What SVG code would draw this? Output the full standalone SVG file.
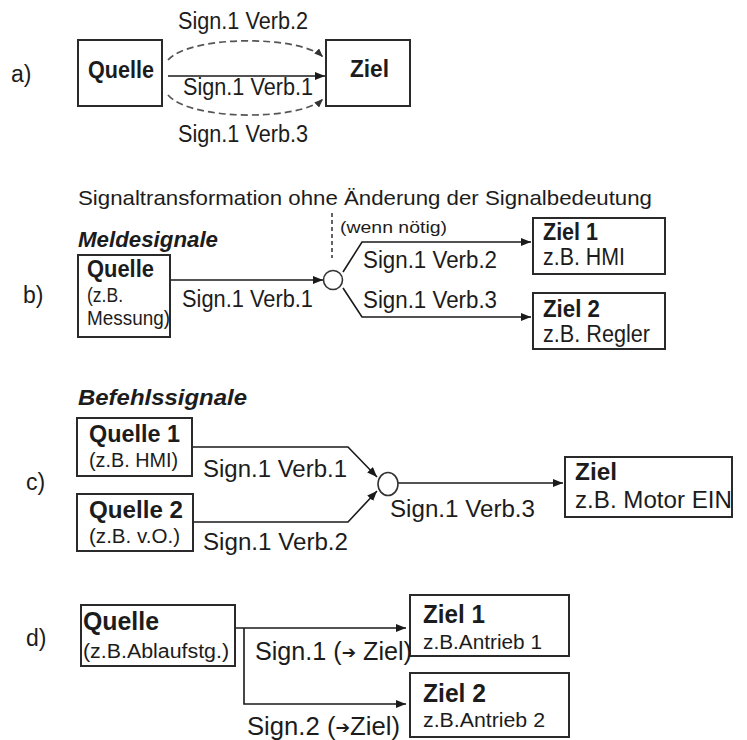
<svg xmlns="http://www.w3.org/2000/svg" width="747" height="740" viewBox="0 0 747 740">
  <defs>
    <marker id="arrow" viewBox="0 0 10 8" refX="10" refY="4" markerWidth="10" markerHeight="8" markerUnits="userSpaceOnUse" orient="auto">
      <path d="M0,0 L10,4 L0,8 z" fill="#1a1a1a"/>
    </marker>
    <marker id="arrow-grey" viewBox="0 0 10 8" refX="10" refY="4" markerWidth="9" markerHeight="7" markerUnits="userSpaceOnUse" orient="auto">
      <path d="M0,0 L10,4 L0,8 z" fill="#333"/>
    </marker>
  </defs>
  <style>
    text { font-family: "Liberation Sans", Arial, sans-serif; fill: #1c1c1c; }
    .tag { font-size: 23px; }
    .lbl { font-size: 23px; }
    .title { font-size: 23px; font-weight: bold; }
    .sub { font-size: 20px; }
    .head { font-size: 22px; font-weight: bold; font-style: italic; }
    .note { font-size: 21px; }
    .small { font-size: 17px; }
    .box { fill: #fff; stroke: #2a2a2a; stroke-width: 2; }
    .wire { fill: none; stroke: #1a1a1a; stroke-width: 1.6; }
    .arr { marker-end: url(#arrow); }
    .dash { fill: none; stroke: #555; stroke-width: 1.7; stroke-dasharray: 7 4; marker-end: url(#arrow-grey); }
    .junction { fill: #fff; stroke: #333; stroke-width: 1.6; }
    .sym { font-family: "DejaVu Sans", sans-serif; font-weight: bold; font-size: 17px; }
  </style>

  <!-- section labels -->
  <text class="tag" x="11" y="82">a)</text>
  <text class="tag" x="23" y="303">b)</text>
  <text class="tag" x="26" y="490">c)</text>
  <text class="tag" x="26" y="646">d)</text>

  <!-- headings and notes -->
  <text class="note" x="78" y="205" textLength="574" lengthAdjust="spacingAndGlyphs">Signaltransformation ohne Änderung der Signalbedeutung</text>
  <text class="small" x="340" y="233" textLength="107" lengthAdjust="spacingAndGlyphs">(wenn nötig)</text>
  <text class="head" x="78" y="247" textLength="140" lengthAdjust="spacingAndGlyphs">Meldesignale</text>
  <text class="head" x="78" y="405" textLength="169" lengthAdjust="spacingAndGlyphs">Befehlssignale</text>

  <!-- connectors -->
  <g id="connectors">
    <!-- a) -->
    <path class="dash" d="M168,60 C190,35 300,35 323,57"/>
    <line class="wire arr" x1="168" y1="76" x2="325" y2="76"/>
    <path class="dash" d="M168,95 C190,121 300,121 323,99"/>
    <!-- b) -->
    <line x1="332" y1="213" x2="332" y2="258" stroke="#222" stroke-width="1.4" stroke-dasharray="4 3"/>
    <line class="wire arr" x1="170" y1="280" x2="323" y2="280"/>
    <polyline class="wire arr" points="343,272 362,242 531,242"/>
    <polyline class="wire arr" points="343,288 362,317 531,317"/>
    <!-- c) -->
    <polyline class="wire arr" points="192,447 348,447 377,477"/>
    <polyline class="wire arr" points="193,522 348,522 377,491"/>
    <line class="wire arr" x1="398" y1="483" x2="563" y2="483"/>
    <!-- d) -->
    <line class="wire arr" x1="235" y1="628" x2="406" y2="628"/>
    <polyline class="wire arr" points="244,628 244,704 406,704"/>
  </g>

  <!-- a) nodes -->
  <g id="a-quelle">
    <rect class="box" x="78" y="40" width="84" height="66"/>
    <text class="title" x="88" y="78" textLength="66" lengthAdjust="spacingAndGlyphs">Quelle</text>
  </g>
  <g id="a-ziel">
    <rect class="box" x="326" y="40" width="84" height="66"/>
    <text class="title" x="350" y="77" textLength="39" lengthAdjust="spacingAndGlyphs">Ziel</text>
  </g>
  <g id="a-labels">
    <text class="lbl" x="178" y="29" textLength="130" lengthAdjust="spacingAndGlyphs">Sign.1 Verb.2</text>
    <text class="lbl" x="183" y="95" textLength="130" lengthAdjust="spacingAndGlyphs">Sign.1 Verb.1</text>
    <text class="lbl" x="178" y="142" textLength="130" lengthAdjust="spacingAndGlyphs">Sign.1 Verb.3</text>
  </g>

  <!-- b) nodes -->
  <g id="b-quelle">
    <rect class="box" x="78" y="255" width="92" height="82"/>
    <text class="title" x="87" y="277" textLength="67" lengthAdjust="spacingAndGlyphs">Quelle</text>
    <text class="sub" x="87" y="302" textLength="36" lengthAdjust="spacingAndGlyphs">(z.B.</text>
    <text class="sub" x="87" y="325" textLength="83" lengthAdjust="spacingAndGlyphs">Messung)</text>
  </g>
  <g id="b-junction">
    <circle class="junction" cx="333" cy="280" r="9.5"/>
  </g>
  <g id="b-ziel1">
    <rect class="box" x="533" y="218" width="132" height="56"/>
    <text class="title" x="543" y="240" textLength="55" lengthAdjust="spacingAndGlyphs">Ziel 1</text>
    <text class="lbl" x="543" y="265" textLength="82" lengthAdjust="spacingAndGlyphs">z.B. HMI</text>
  </g>
  <g id="b-ziel2">
    <rect class="box" x="533" y="293" width="132" height="56"/>
    <text class="title" x="543" y="317" textLength="57" lengthAdjust="spacingAndGlyphs">Ziel 2</text>
    <text class="lbl" x="543" y="342" textLength="107" lengthAdjust="spacingAndGlyphs">z.B. Regler</text>
  </g>
  <g id="b-labels">
    <text class="lbl" x="182" y="307" textLength="131" lengthAdjust="spacingAndGlyphs">Sign.1 Verb.1</text>
    <text class="lbl" x="363" y="268" textLength="134" lengthAdjust="spacingAndGlyphs">Sign.1 Verb.2</text>
    <text class="lbl" x="363" y="308" textLength="134" lengthAdjust="spacingAndGlyphs">Sign.1 Verb.3</text>
  </g>

  <!-- c) nodes -->
  <g id="c-quelle1">
    <rect class="box" x="77" y="418" width="115" height="58"/>
    <text class="title" x="89" y="442" textLength="91" lengthAdjust="spacingAndGlyphs">Quelle 1</text>
    <text class="sub" x="89" y="467" textLength="89" lengthAdjust="spacingAndGlyphs">(z.B. HMI)</text>
  </g>
  <g id="c-quelle2">
    <rect class="box" x="77" y="494" width="116" height="57"/>
    <text class="title" x="89" y="518" textLength="94" lengthAdjust="spacingAndGlyphs">Quelle 2</text>
    <text class="sub" x="89" y="543" textLength="91" lengthAdjust="spacingAndGlyphs">(z.B. v.O.)</text>
  </g>
  <g id="c-junction">
    <ellipse class="junction" cx="388" cy="484" rx="10" ry="11.5"/>
  </g>
  <g id="c-ziel">
    <rect class="box" x="565" y="457" width="167" height="60"/>
    <text class="title" x="575" y="480" textLength="42" lengthAdjust="spacingAndGlyphs">Ziel</text>
    <text class="lbl" x="575" y="508" textLength="157" lengthAdjust="spacingAndGlyphs">z.B. Motor EIN</text>
  </g>
  <g id="c-labels">
    <text class="lbl" x="203" y="477" textLength="144" lengthAdjust="spacingAndGlyphs">Sign.1 Verb.1</text>
    <text class="lbl" x="203" y="550" textLength="145" lengthAdjust="spacingAndGlyphs">Sign.1 Verb.2</text>
    <text class="lbl" x="390" y="517" textLength="145" lengthAdjust="spacingAndGlyphs">Sign.1 Verb.3</text>
  </g>

  <!-- d) nodes -->
  <g id="d-quelle">
    <rect class="box" x="81" y="605" width="154" height="61"/>
    <text class="title" x="83" y="630" textLength="76" lengthAdjust="spacingAndGlyphs" style="font-size:25px">Quelle</text>
    <text class="sub" x="83" y="658" textLength="146" lengthAdjust="spacingAndGlyphs">(z.B.Ablaufstg.)</text>
  </g>
  <g id="d-ziel1">
    <rect class="box" x="410" y="595" width="159" height="61"/>
    <text class="title" x="423" y="623" textLength="62" lengthAdjust="spacingAndGlyphs" style="font-size:25px">Ziel 1</text>
    <text class="sub" x="423" y="649" textLength="119" lengthAdjust="spacingAndGlyphs">z.B.Antrieb 1</text>
  </g>
  <g id="d-ziel2">
    <rect class="box" x="410" y="673" width="159" height="64"/>
    <text class="title" x="423" y="702" textLength="63" lengthAdjust="spacingAndGlyphs" style="font-size:25px">Ziel 2</text>
    <text class="sub" x="423" y="727" textLength="122" lengthAdjust="spacingAndGlyphs">z.B.Antrieb 2</text>
  </g>
  <g id="d-labels">
    <text class="lbl" x="255" y="660" textLength="157" lengthAdjust="spacingAndGlyphs" style="font-size:25px">Sign.1 (<tspan class="sym" dy="-2">➔</tspan><tspan dy="2"> Ziel)</tspan></text>
    <text class="lbl" x="247" y="735" textLength="153" lengthAdjust="spacingAndGlyphs" style="font-size:25px">Sign.2 (<tspan class="sym" dy="-2">➔</tspan><tspan dy="2">Ziel)</tspan></text>
  </g>
</svg>
